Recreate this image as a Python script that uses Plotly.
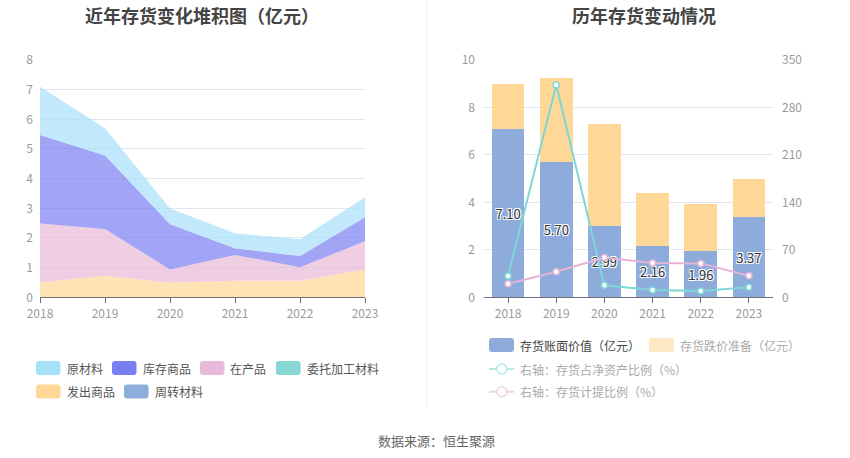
import plotly.graph_objects as go

W, H = 850, 458

years = [2018, 2019, 2020, 2021, 2022, 2023]
year_labels = ["2018", "2019", "2020", "2021", "2022", "2023"]

# 近年存货变化堆积图（亿元）
raw_material = [1.63, 0.92, 0.53, 0.51, 0.57, 0.67]      # 原材料
stock_goods = [2.98, 2.48, 1.52, 0.22, 0.38, 0.81]       # 库存商品
wip = [1.98, 1.57, 0.45, 0.87, 0.45, 0.95]               # 在产品
consigned = [0, 0, 0, 0, 0, 0]                           # 委托加工材料
shipped = [0.51, 0.73, 0.49, 0.56, 0.56, 0.94]           # 发出商品
turnover = [0, 0, 0, 0, 0, 0]                            # 周转材料

# 历年存货变动情况
book_value = [7.10, 5.70, 2.99, 2.16, 1.96, 3.37]        # 存货账面价值（亿元）
impairment = [1.88, 3.53, 4.31, 2.22, 1.99, 1.62]        # 存货跌价准备（亿元）
ratio_net_assets = [31.4, 313.0, 17.6, 10.8, 9.3, 14.7]  # 存货占净资产比例（%）
provision_ratio = [20.1, 37.7, 58.8, 50.5, 50.0, 31.9]   # 存货计提比例（%）

FONT = "Noto Sans CJK SC"

def X(px):
    return px / W

def Y(py):
    return 1 - py / H

fig = go.Figure()

# stacked areas: bottom first
area_series = [
    ("周转材料", turnover, "#8daedb", "rgba(141,174,219,0.7)"),
    ("发出商品", shipped, "#ffd796", "rgba(255,215,150,0.7)"),
    ("委托加工材料", consigned, "#86d6d6", "rgba(134,214,214,0.7)"),
    ("在产品", wip, "#e8b9d9", "rgba(232,185,217,0.7)"),
    ("库存商品", stock_goods, "#7a7ef2", "rgba(122,126,242,0.7)"),
    ("原材料", raw_material, "#a6e0f9", "rgba(166,224,249,0.7)"),
]
for name, vals, col, fcol in area_series:
    fig.add_trace(go.Scatter(
        x=years, y=vals, name=name, stackgroup="one", mode="lines",
        line=dict(width=0, color=col), fillcolor=fcol,
        showlegend=False, xaxis="x", yaxis="y",
    ))

# bars
fig.add_trace(go.Bar(
    x=year_labels, y=book_value, name="存货账面价值（亿元）",
    marker=dict(color="#8eacdb", line=dict(width=0)),
    texttemplate="%{y:.2f}", textposition="inside", insidetextanchor="middle",
    textangle=0, constraintext="none",
    textfont=dict(family=FONT, size=13, color="#333333",
                  shadow="1px 1px 0 #fff, -1px -1px 0 #fff, 1px -1px 0 #fff, -1px 1px 0 #fff"),
    showlegend=False, xaxis="x2", yaxis="y2",
))
fig.add_trace(go.Bar(
    x=year_labels, y=impairment, name="存货跌价准备（亿元）",
    marker=dict(color="#ffd898", line=dict(width=0)),
    showlegend=False, xaxis="x2", yaxis="y2",
))
fig.add_trace(go.Scatter(
    x=year_labels, y=ratio_net_assets, name="右轴：存货占净资产比例（%）",
    mode="lines+markers", line=dict(color="#7fd6d6", width=2),
    marker=dict(symbol="circle", size=6, color="#ffffff", line=dict(color="#7fd6d6", width=1.5)),
    showlegend=False, xaxis="x2", yaxis="y3",
))
fig.add_trace(go.Scatter(
    x=year_labels, y=provision_ratio, name="右轴：存货计提比例（%）",
    mode="lines+markers", line=dict(color="#e6b3d6", width=2),
    marker=dict(symbol="circle", size=6, color="#ffffff", line=dict(color="#e6b3d6", width=1.5)),
    showlegend=False, xaxis="x2", yaxis="y3",
))

ydom = [Y(297.3), Y(60)]
tickfont = dict(family=FONT, size=12, color="#9a9a9a")

fig.update_layout(
    width=W, height=H, autosize=False,
    margin=dict(l=0, r=0, t=0, b=0, pad=0, autoexpand=False),
    paper_bgcolor="white", plot_bgcolor="white",
    font=dict(family=FONT, size=12, color="#666"),
    barmode="stack", bargap=0.32,
    showlegend=False,
    xaxis=dict(domain=[X(40), X(365)], range=[2018, 2023], tickvals=years, ticktext=year_labels,
               showline=True, linecolor="#6E7079", linewidth=1, ticks="outside", ticklen=5,
               tickcolor="#6E7079", showgrid=False, zeroline=False, tickfont=tickfont,
               anchor="y", fixedrange=True, automargin=False),
    yaxis=dict(domain=ydom, range=[0, 8], dtick=1, showgrid=True, gridcolor="#e0e6f1",
               zeroline=False, showline=False, ticks="", tickfont=tickfont,
               ticklabelstandoff=6, anchor="x", fixedrange=True, automargin=False),
    xaxis2=dict(domain=[X(484), X(773)], type="category", showline=True, linecolor="#6E7079",
                linewidth=1, ticks="outside", ticklen=5, tickcolor="#6E7079", showgrid=False,
                zeroline=False, tickfont=tickfont, anchor="y2", fixedrange=True, automargin=False),
    yaxis2=dict(domain=ydom, range=[0, 10], dtick=2, showgrid=True, gridcolor="#e0e6f1",
                zeroline=False, showline=False, ticks="", tickfont=tickfont,
                ticklabelstandoff=8, anchor="x2", fixedrange=True, automargin=False),
    yaxis3=dict(domain=ydom, range=[0, 350], dtick=70, overlaying="y2", side="right",
                showgrid=False, zeroline=False, showline=False, ticks="", tickfont=tickfont,
                ticklabelstandoff=8, anchor="x2", fixedrange=True, automargin=False),
)

shapes = []
annotations = []

# divider
shapes.append(dict(type="line", xref="paper", yref="paper", x0=X(427), x1=X(427),
                   y0=Y(0), y1=Y(408), line=dict(color="#eeeeee", width=1)))

def rrect(x0, y0, x1, y1, color, r=3):
    xa, xb = X(x0), X(x1)
    ya, yb = Y(y1), Y(y0)  # ya bottom, yb top
    rx, ry = r / W, r / H
    path = (f"M{xa+rx},{yb} L{xb-rx},{yb} Q{xb},{yb} {xb},{yb-ry} "
            f"L{xb},{ya+ry} Q{xb},{ya} {xb-rx},{ya} L{xa+rx},{ya} "
            f"Q{xa},{ya} {xa},{ya+ry} L{xa},{yb-ry} Q{xa},{yb} {xa+rx},{yb} Z")
    return dict(type="path", xref="paper", yref="paper", path=path,
                fillcolor=color, line=dict(width=0))

def label(px, py, text, color="#555555", size=12):
    annotations.append(dict(x=X(px), y=Y(py), xref="paper", yref="paper", text=text,
                            showarrow=False, xanchor="left", yanchor="middle",
                            font=dict(family=FONT, size=size, color=color)))

# left legend
left_legend = [
    ("原材料", "#a6e0f9", 36, 368),
    ("库存商品", "#7a7ef2", 112, 368),
    ("在产品", "#e8b9d9", 200, 368),
    ("委托加工材料", "#86d6d6", 276, 368),
    ("发出商品", "#ffd796", 36, 391.5),
    ("周转材料", "#8daedb", 124, 391.5),
]
for name, col, x0, yc in left_legend:
    shapes.append(rrect(x0, yc - 7, x0 + 24.5, yc + 7, col))
    label(x0 + 28.5, yc, name)

# right legend
shapes.append(rrect(489, 338, 514, 352, "#8eacdb"))
label(518, 345, "存货账面价值（亿元）", color="#444444")
shapes.append(rrect(649, 338, 674, 352, "#ffe9c4"))
label(678, 345, "存货跌价准备（亿元）", color="#aaaaaa")
for yc, col, name in [(369, "#b5e8e8", "右轴：存货占净资产比例（%）"),
                      (391.7, "#f1d2e7", "右轴：存货计提比例（%）")]:
    shapes.append(dict(type="line", xref="paper", yref="paper", x0=X(489), x1=X(514),
                       y0=Y(yc), y1=Y(yc), line=dict(color=col, width=2)))
    shapes.append(dict(type="circle", xref="paper", yref="paper",
                       x0=X(501.7 - 5), x1=X(501.7 + 5), y0=Y(yc + 5), y1=Y(yc - 5),
                       fillcolor="white", line=dict(color=col, width=1.5)))
    label(518, yc, name, color="#aaaaaa")

# titles
annotations.append(dict(x=X(201.5), y=Y(15), xref="paper", yref="paper",
                        text="<b>近年存货变化堆积图（亿元）</b>", showarrow=False,
                        xanchor="center", yanchor="middle",
                        font=dict(family=FONT, size=18, color="#444444")))
annotations.append(dict(x=X(643.5), y=Y(15), xref="paper", yref="paper",
                        text="<b>历年存货变动情况</b>", showarrow=False,
                        xanchor="center", yanchor="middle",
                        font=dict(family=FONT, size=18, color="#444444")))
annotations.append(dict(x=X(436), y=Y(440), xref="paper", yref="paper",
                        text="数据来源：恒生聚源", showarrow=False,
                        xanchor="center", yanchor="middle",
                        font=dict(family=FONT, size=13, color="#666666")))

fig.update_layout(shapes=shapes, annotations=annotations)

# remove the browser's default 8px body margin so the figure sits at the page origin
fig.write_html("out.html",
               config={"displayModeBar": False, "staticPlot": False},
               post_script="document.body.style.margin='0';document.body.style.overflow='hidden';")
